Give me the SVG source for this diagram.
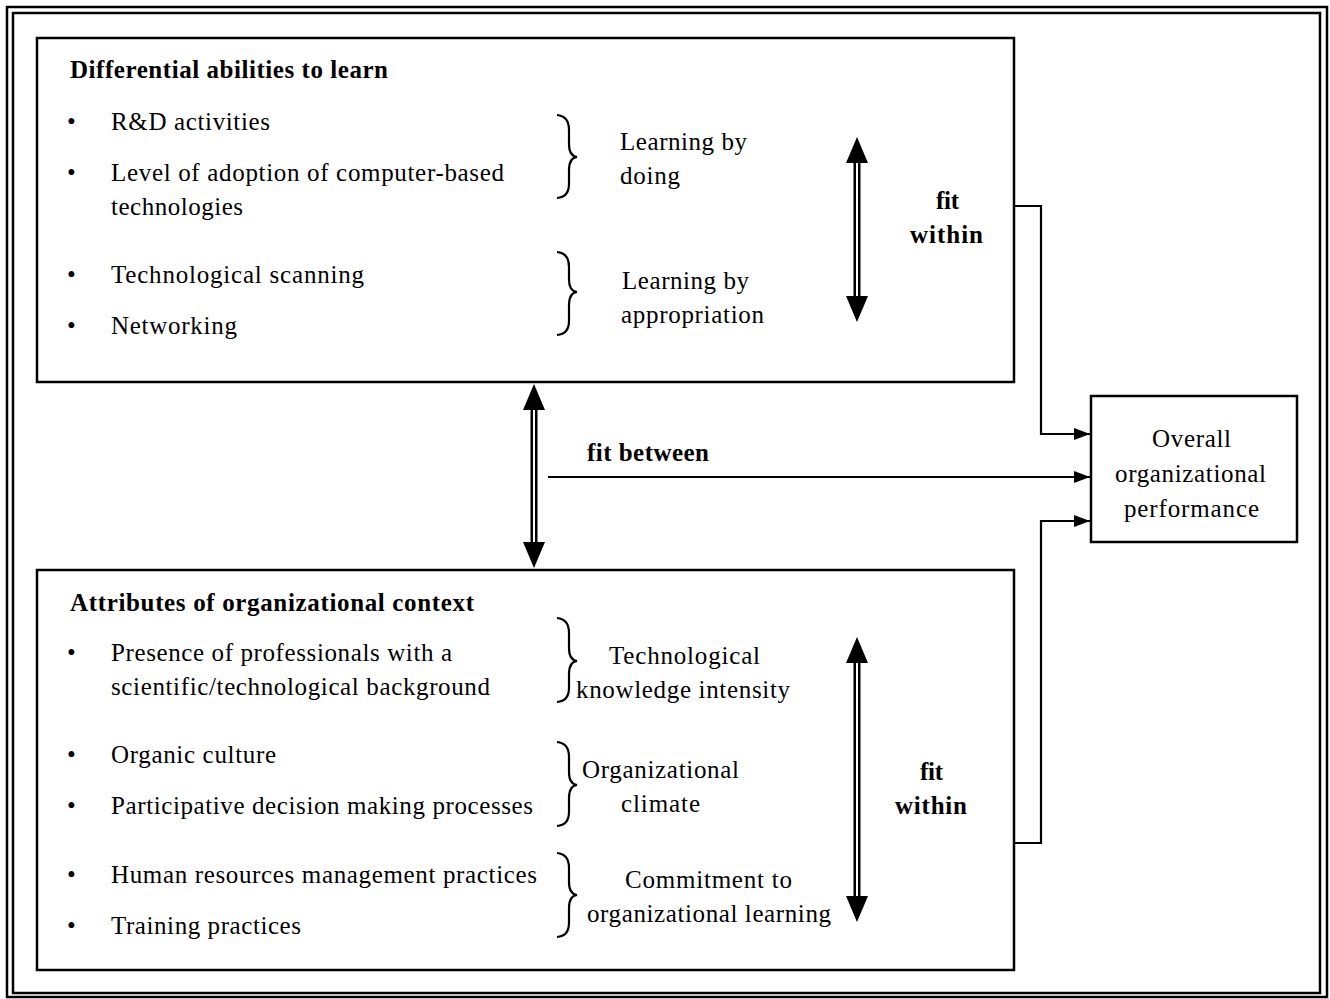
<svg xmlns="http://www.w3.org/2000/svg" width="1330" height="999" viewBox="0 0 1330 999">
<defs>
<style>
text{font-family:"Liberation Serif","Times New Roman",serif;font-size:25px;fill:#000}
.b{font-weight:bold}
.box{fill:none;stroke:#000;stroke-width:2.5}
.frame{fill:none;stroke:#000;stroke-width:2.5}
.brace{fill:none;stroke:#000;stroke-width:2.2}
.conn{fill:none;stroke:#000;stroke-width:2.2}
.dblo{stroke:#000;stroke-width:7}
.dbli{stroke:#fff;stroke-width:2}
</style>
<marker id="ah" markerWidth="16" markerHeight="12" refX="16" refY="6" orient="auto" markerUnits="userSpaceOnUse">
<path d="M0,0 L16,6 L0,12 Z" fill="#000"/>
</marker>
<path id="head" d="M0,0 L-11,-26 L11,-26 Z" fill="#000"/>
</defs>
<rect width="1330" height="999" fill="#fff"/>
<g id="frame">
<rect class="frame" x="7" y="7" width="1320" height="990"/>
<rect class="frame" x="13" y="13" width="1307" height="980"/>
</g>
<g id="connectors">
<polyline class="conn" points="1014,206 1041,206 1041,434 1090,434" marker-end="url(#ah)"/>
<polyline class="conn" points="548,477 1090,477" marker-end="url(#ah)"/>
<polyline class="conn" points="1014,843 1041,843 1041,521 1090,521" marker-end="url(#ah)"/>
<g id="fit-between-arrow">
<line class="dblo" x1="534" y1="405" x2="534" y2="546"/>
<line class="dbli" x1="534" y1="405" x2="534" y2="546"/>
<use href="#head" transform="translate(534,384) rotate(180)"/>
<use href="#head" transform="translate(534,568)"/>
</g>
</g>
<g id="top-box">
<rect class="box" x="37" y="38" width="977" height="344"/>
<text class="b" x="70" y="78" textLength="318" lengthAdjust="spacing">Differential abilities to learn</text>
<text x="67" y="130">•</text><text x="111" y="130" textLength="159" lengthAdjust="spacing">R&amp;D activities</text>
<text x="67" y="181">•</text><text x="111" y="181" textLength="393" lengthAdjust="spacing">Level of adoption of computer-based</text>
<text x="111" y="215" textLength="132" lengthAdjust="spacing">technologies</text>
<text x="67" y="283">•</text><text x="111" y="283" textLength="253" lengthAdjust="spacing">Technological scanning</text>
<text x="67" y="334">•</text><text x="111" y="334" textLength="126" lengthAdjust="spacing">Networking</text>
<path class="brace" d="M557,115 Q569,116 569,130 L569,144 Q569,156 577,157 Q569,158 569,170 L569,184 Q569,197 557,198"/>
<path class="brace" d="M557,252 Q569,253 569,267 L569,280 Q569,291 577,292 Q569,293 569,305 L569,321 Q569,334 557,335"/>
<text x="620" y="150" textLength="127" lengthAdjust="spacing">Learning by</text>
<text x="620" y="184" textLength="60" lengthAdjust="spacing">doing</text>
<text x="622" y="289" textLength="127" lengthAdjust="spacing">Learning by</text>
<text x="621" y="323" textLength="143" lengthAdjust="spacing">appropriation</text>
<line class="dblo" x1="857" y1="158" x2="857" y2="300"/>
<line class="dbli" x1="857" y1="158" x2="857" y2="300"/>
<use href="#head" transform="translate(857,137) rotate(180)"/>
<use href="#head" transform="translate(857,322)"/>
<text class="b" x="936" y="209" textLength="23" lengthAdjust="spacing">fit</text>
<text class="b" x="910" y="243" textLength="73" lengthAdjust="spacing">within</text>
</g>
<g id="fit-between">
<text class="b" x="587" y="461" textLength="122" lengthAdjust="spacing">fit between</text>
</g>
<g id="performance">
<rect class="box" x="1091" y="396" width="206" height="146"/>
<text x="1152" y="447" textLength="79" lengthAdjust="spacing">Overall</text>
<text x="1115" y="482" textLength="151" lengthAdjust="spacing">organizational</text>
<text x="1124" y="517" textLength="135" lengthAdjust="spacing">performance</text>
</g>
<g id="bottom-box">
<rect class="box" x="37" y="570" width="977" height="400"/>
<text class="b" x="70" y="611" textLength="404" lengthAdjust="spacing">Attributes of organizational context</text>
<text x="67" y="661">•</text><text x="111" y="661" textLength="341" lengthAdjust="spacing">Presence of professionals with a</text>
<text x="111" y="695" textLength="379" lengthAdjust="spacing">scientific/technological background</text>
<text x="67" y="763">•</text><text x="111" y="763" textLength="165" lengthAdjust="spacing">Organic culture</text>
<text x="67" y="814">•</text><text x="111" y="814" textLength="422" lengthAdjust="spacing">Participative decision making processes</text>
<text x="67" y="883">•</text><text x="111" y="883" textLength="426" lengthAdjust="spacing">Human resources management practices</text>
<text x="67" y="934">•</text><text x="111" y="934" textLength="190" lengthAdjust="spacing">Training practices</text>
<path class="brace" d="M557,618 Q569,619 569,633 L569,648 Q569,660 577,661 Q569,662 569,674 L569,688 Q569,701 557,702"/>
<path class="brace" d="M557,742 Q569,743 569,757 L569,772 Q569,784 577,785 Q569,786 569,798 L569,812 Q569,825 557,826"/>
<path class="brace" d="M557,853 Q569,854 569,868 L569,882 Q569,894 577,895 Q569,896 569,908 L569,923 Q569,936 557,937"/>
<text x="609" y="664" textLength="151" lengthAdjust="spacing">Technological</text>
<text x="576" y="698" textLength="214" lengthAdjust="spacing">knowledge intensity</text>
<text x="582" y="778" textLength="157" lengthAdjust="spacing">Organizational</text>
<text x="621" y="812" textLength="79" lengthAdjust="spacing">climate</text>
<text x="625" y="888" textLength="167" lengthAdjust="spacing">Commitment to</text>
<text x="587" y="922" textLength="244" lengthAdjust="spacing">organizational learning</text>
<line class="dblo" x1="857" y1="658" x2="857" y2="900"/>
<line class="dbli" x1="857" y1="658" x2="857" y2="900"/>
<use href="#head" transform="translate(857,637) rotate(180)"/>
<use href="#head" transform="translate(857,922)"/>
<text class="b" x="920" y="780" textLength="23" lengthAdjust="spacing">fit</text>
<text class="b" x="895" y="814" textLength="72" lengthAdjust="spacing">within</text>
</g>
</svg>
